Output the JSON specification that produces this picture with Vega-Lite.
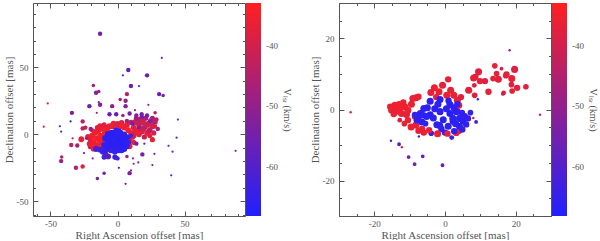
{
  "$schema": "https://vega.github.io/schema/vega-lite/v6.json",
  "padding": {"left": 3, "top": 2, "right": 0, "bottom": 0},
  "background": "white",
  "spacing": 17,
  "config": {
    "view": {"stroke": null},
    "axis": {
      "grid": false,
      "domainColor": "#555",
      "domainWidth": 1,
      "tickColor": "#555",
      "tickWidth": 1,
      "labelFont": "Liberation Serif",
      "labelFontSize": 9,
      "labelColor": "#555",
      "titleFont": "Liberation Serif",
      "titleFontSize": 11,
      "titleFontWeight": "normal",
      "titleColor": "#555"
    },
    "legend": {
      "labelFont": "Liberation Serif",
      "labelFontSize": 9,
      "labelColor": "#555",
      "titleFont": "Liberation Serif",
      "titleFontSize": 10,
      "titleFontWeight": "normal",
      "titleColor": "#555"
    }
  },
  "resolve": {"scale": {"color": "independent", "size": "independent"}, "legend": {"color": "independent"}},
  "datasets": {
    "L": [
      {"x": -20, "y": -4, "v": -36, "s": 3}, {"x": -19, "y": -1, "v": -35, "s": 3}, {"x": -18, "y": -6, "v": -35, "s": 3},
      {"x": -17, "y": 1, "v": -36, "s": 3}, {"x": -16, "y": -3, "v": -34, "s": 3}, {"x": -15, "y": -8, "v": -36, "s": 3},
      {"x": -14, "y": 3, "v": -35, "s": 3}, {"x": -13, "y": -1, "v": -34, "s": 3}, {"x": -12, "y": -6, "v": -35, "s": 3},
      {"x": -11, "y": 4, "v": -36, "s": 3}, {"x": -10, "y": 0, "v": -34, "s": 3}, {"x": -9, "y": -9, "v": -35, "s": 3},
      {"x": -8, "y": 5, "v": -36, "s": 3}, {"x": -7, "y": 2, "v": -35, "s": 3}, {"x": -6, "y": 6, "v": -37, "s": 3},
      {"x": -12, "y": -10, "v": -36, "s": 2.5}, {"x": -17, "y": -9, "v": -37, "s": 2.5}, {"x": -21, "y": -7, "v": -38, "s": 2.5},
      {"x": -5, "y": -10, "v": -36, "s": 3}, {"x": -3, "y": -11, "v": -35, "s": 3}, {"x": -15, "y": 5, "v": -38, "s": 2.5},
      {"x": -19, "y": 3, "v": -40, "s": 2},
      {"x": -22, "y": -2, "v": -36, "s": 3}, {"x": -20, "y": -9, "v": -36, "s": 3}, {"x": -18, "y": -11, "v": -37, "s": 2.5},
      {"x": -14, "y": -4, "v": -35, "s": 3}, {"x": -16, "y": 2, "v": -36, "s": 3}, {"x": -9, "y": 3, "v": -35, "s": 3},
      {"x": -11, "y": -3, "v": -35, "s": 3}, {"x": -8, "y": -11, "v": -36, "s": 3}, {"x": -13, "y": 6, "v": -37, "s": 3},
      {"x": -10, "y": 7, "v": -38, "s": 2.5}, {"x": -3, "y": 8, "v": -36, "s": 3}, {"x": 3, "y": 8.5, "v": -37, "s": 3},
      {"x": 7, "y": 7, "v": -37, "s": 3}, {"x": 13, "y": 2, "v": -37, "s": 3}, {"x": 16, "y": 0, "v": -37, "s": 3},
      {"x": 19, "y": 4, "v": -39, "s": 3}, {"x": 22, "y": 7, "v": -40, "s": 3}, {"x": 24, "y": -1, "v": -38, "s": 2.5},
      {"x": 9, "y": -9, "v": -37, "s": 3}, {"x": 12, "y": -6, "v": -38, "s": 2.5}, {"x": 15, "y": 10, "v": -42, "s": 3},
      {"x": 19, "y": 12, "v": -45, "s": 2.5}, {"x": 26, "y": 12, "v": -48, "s": 2.5},
      {"x": -4, "y": 6, "v": -36, "s": 3}, {"x": -1, "y": 7, "v": -37, "s": 3}, {"x": 2, "y": 6, "v": -35, "s": 3},
      {"x": 5, "y": 5, "v": -36, "s": 3}, {"x": 8, "y": 3, "v": -35, "s": 3}, {"x": 10, "y": 1, "v": -36, "s": 3},
      {"x": 3, "y": -10, "v": -37, "s": 3}, {"x": 6, "y": -8, "v": -36, "s": 3}, {"x": 9, "y": -5, "v": -35, "s": 3},
      {"x": 11, "y": -2, "v": -38, "s": 3}, {"x": 0, "y": 8, "v": -39, "s": 2.5},
      {"x": 12, "y": 5, "v": -38, "s": 3}, {"x": 13, "y": 9, "v": -40, "s": 3}, {"x": 15, "y": 3, "v": -36, "s": 3},
      {"x": 16, "y": 7, "v": -42, "s": 3}, {"x": 17, "y": 11, "v": -44, "s": 3}, {"x": 18, "y": 2, "v": -38, "s": 3},
      {"x": 19, "y": 9, "v": -40, "s": 3}, {"x": 20, "y": 5, "v": -43, "s": 3}, {"x": 21, "y": 12, "v": -46, "s": 2.5},
      {"x": 22, "y": 1, "v": -37, "s": 3}, {"x": 23, "y": 8, "v": -41, "s": 3}, {"x": 24, "y": 3, "v": -44, "s": 3},
      {"x": 25, "y": 10, "v": -46, "s": 3}, {"x": 26, "y": 6, "v": -39, "s": 3}, {"x": 27, "y": 1, "v": -40, "s": 2.5},
      {"x": 14, "y": 12, "v": -47, "s": 2.5}, {"x": 12, "y": -1, "v": -40, "s": 3}, {"x": 20, "y": -2, "v": -42, "s": 2.5},
      {"x": 28, "y": 9, "v": -45, "s": 2.5}, {"x": 10, "y": 9, "v": -44, "s": 2.5}, {"x": 7, "y": 10, "v": -46, "s": 2},
      {"x": 30, "y": 4, "v": -48, "s": 2},
      {"x": 18, "y": 13, "v": -54, "s": 2}, {"x": 22, "y": 14, "v": -56, "s": 2}, {"x": 14, "y": 14, "v": -52, "s": 2},
      {"x": 24, "y": 10, "v": -55, "s": 1.5}, {"x": 16, "y": 5, "v": -52, "s": 2}, {"x": 11, "y": 8, "v": -55, "s": 2},
      {"x": -13, "y": 75, "v": -55, "s": 2}, {"x": 33, "y": 57, "v": -54, "s": 1}, {"x": 8, "y": 48, "v": -57, "s": 2},
      {"x": 22, "y": 44, "v": -56, "s": 2}, {"x": 4, "y": 44, "v": -58, "s": 1}, {"x": 10, "y": 36, "v": -56, "s": 2},
      {"x": 16, "y": 36, "v": -62, "s": 1}, {"x": -18, "y": 36.5, "v": -48, "s": 1.5}, {"x": -16, "y": 31, "v": -52, "s": 2},
      {"x": -14, "y": 32, "v": -50, "s": 1.5}, {"x": 7, "y": 30, "v": -44, "s": 2}, {"x": 31, "y": 30, "v": -56, "s": 2},
      {"x": 34, "y": 29, "v": -54, "s": 1.5}, {"x": 2, "y": 26, "v": -47, "s": 1.5}, {"x": 6, "y": 25, "v": -50, "s": 2},
      {"x": -14, "y": 24, "v": -52, "s": 1}, {"x": -52, "y": 23, "v": -38, "s": 1}, {"x": -21, "y": 21, "v": -55, "s": 2},
      {"x": -13, "y": 22, "v": -52, "s": 2}, {"x": -4, "y": 21, "v": -50, "s": 2}, {"x": 6, "y": 21, "v": -52, "s": 2},
      {"x": 23, "y": 22, "v": -50, "s": 1}, {"x": 13, "y": 18, "v": -45, "s": 1}, {"x": -34, "y": 16, "v": -52, "s": 2},
      {"x": -15.5, "y": 16, "v": -50, "s": 1}, {"x": -6, "y": 15, "v": -56, "s": 2}, {"x": -1, "y": 15, "v": -56, "s": 2},
      {"x": 4, "y": 14, "v": -48, "s": 1.5}, {"x": 9, "y": 15.5, "v": -54, "s": 2}, {"x": 18, "y": 15, "v": -55, "s": 2},
      {"x": 28, "y": 16, "v": -46, "s": 1.5}, {"x": 45, "y": 11, "v": -56, "s": 1}, {"x": -35, "y": 9.6, "v": -62, "s": 1},
      {"x": -26, "y": 9.6, "v": -45, "s": 2}, {"x": 29, "y": 11, "v": -44, "s": 2}, {"x": -55, "y": 5.7, "v": -40, "s": 1},
      {"x": -43, "y": 6, "v": -63, "s": 1}, {"x": -42, "y": 2, "v": -57, "s": 1}, {"x": -33.5, "y": -3, "v": -45, "s": 1},
      {"x": -20, "y": 4, "v": -50, "s": 2}, {"x": -26, "y": 4.4, "v": -44, "s": 2}, {"x": -24, "y": 5, "v": -42, "s": 2},
      {"x": 28, "y": 5.7, "v": -38, "s": 2}, {"x": 44, "y": -2.5, "v": -57, "s": 1}, {"x": -27, "y": -3.7, "v": -36, "s": 3},
      {"x": -34.5, "y": -8, "v": -44, "s": 2}, {"x": -30, "y": -8.4, "v": -46, "s": 2}, {"x": -21, "y": -10, "v": -45, "s": 1},
      {"x": 14, "y": -7, "v": -55, "s": 2}, {"x": 20, "y": -7, "v": -57, "s": 1}, {"x": 26, "y": -4, "v": -36, "s": 2.5},
      {"x": 38, "y": -8.6, "v": -55, "s": 1}, {"x": 41, "y": -13, "v": -56, "s": 1}, {"x": 88, "y": -12.3, "v": -52, "s": 1},
      {"x": -41.6, "y": -17, "v": -45, "s": 1.5}, {"x": -42, "y": -20, "v": -50, "s": 2}, {"x": -25, "y": -14, "v": -58, "s": 1},
      {"x": -18.5, "y": -18, "v": -48, "s": 1}, {"x": -1, "y": -17.5, "v": -52, "s": 2}, {"x": 7, "y": -16.5, "v": -46, "s": 1.5},
      {"x": 11.5, "y": -18, "v": -50, "s": 1}, {"x": 18.5, "y": -15, "v": -54, "s": 2}, {"x": 27.5, "y": -14.6, "v": -56, "s": 1},
      {"x": 15.5, "y": -21, "v": -52, "s": 1}, {"x": 12, "y": -22, "v": -54, "s": 1}, {"x": 26, "y": -23, "v": -55, "s": 1},
      {"x": -26, "y": -24, "v": -37, "s": 2}, {"x": -31, "y": -25, "v": -45, "s": 2}, {"x": 9, "y": -29, "v": -52, "s": 2},
      {"x": -10, "y": -29, "v": -54, "s": 1.5}, {"x": 1, "y": -25, "v": -62, "s": 1}, {"x": -15, "y": -33, "v": -54, "s": 1.5},
      {"x": 6, "y": -37, "v": -56, "s": 1}, {"x": 40, "y": -30.6, "v": -60, "s": 1}, {"x": 10, "y": -27, "v": -50, "s": 1},
      {"x": -23, "y": -3, "v": -48, "s": 1.5},
      {"x": -16, "y": -11, "v": -62, "s": 3}, {"x": -13, "y": -11.5, "v": -62, "s": 3}, {"x": -11, "y": -13, "v": -63, "s": 3},
      {"x": -9, "y": -15, "v": -61, "s": 3}, {"x": -7, "y": -16.5, "v": -60, "s": 3}, {"x": -10, "y": -17, "v": -61, "s": 2.5},
      {"x": -2, "y": -17, "v": -64, "s": 2.5}, {"x": 0, "y": -18, "v": -62, "s": 2},
      {"x": -9, "y": -3, "v": -66, "s": 3.5}, {"x": -8, "y": -7, "v": -65, "s": 3.5}, {"x": -7, "y": 0, "v": -66, "s": 3.5},
      {"x": -6, "y": -10, "v": -67, "s": 3.5}, {"x": -5, "y": -4, "v": -66, "s": 3.5}, {"x": -4, "y": 1, "v": -67, "s": 3.5},
      {"x": -3, "y": -8, "v": -66, "s": 3.5}, {"x": -2, "y": -2, "v": -67, "s": 3.5}, {"x": -1, "y": -11, "v": -65, "s": 3.5},
      {"x": 0, "y": -5, "v": -66, "s": 3.5}, {"x": 1, "y": 2, "v": -67, "s": 3.5}, {"x": 2, "y": -9, "v": -66, "s": 3.5},
      {"x": 3, "y": -3, "v": -66, "s": 3.5}, {"x": 4, "y": -7, "v": -67, "s": 3.5}, {"x": 5, "y": 0, "v": -65, "s": 3},
      {"x": 6, "y": -5, "v": -66, "s": 3}, {"x": 7, "y": -9, "v": -65, "s": 3}, {"x": -7, "y": -5, "v": -66, "s": 3.5},
      {"x": -4, "y": -6, "v": -67, "s": 3.5}, {"x": -1, "y": -7, "v": -66, "s": 3.5}, {"x": 2, "y": -5, "v": -67, "s": 3.5},
      {"x": -3, "y": -4, "v": -66, "s": 3.5}, {"x": 0, "y": -1, "v": -66, "s": 3.5}, {"x": 4, "y": -2, "v": -66, "s": 3},
      {"x": 8, "y": -2, "v": -64, "s": 2.5}, {"x": 10, "y": -1, "v": -62, "s": 2}, {"x": -10, "y": -8, "v": -64, "s": 3},
      {"x": 1, "y": -12, "v": -65, "s": 3}, {"x": -5, "y": -12, "v": -64, "s": 3}, {"x": 5, "y": -11, "v": -66, "s": 3},
      {"x": -8, "y": -10, "v": -66, "s": 3.5}, {"x": -6, "y": -2, "v": -66, "s": 3.5}, {"x": -2, "y": -13, "v": -65, "s": 3},
      {"x": 3, "y": -12, "v": -66, "s": 3}, {"x": 6, "y": -2, "v": -66, "s": 3}, {"x": -1, "y": 3, "v": -66, "s": 3},
      {"x": 2, "y": 1, "v": -66, "s": 3.5}, {"x": -9, "y": -12, "v": -65, "s": 3}, {"x": 8, "y": -6, "v": -65, "s": 3}
    ],
    "R": [
      {"x": -26.7, "y": -0.75, "v": -38, "s": 1}, {"x": 26.9, "y": -1.5, "v": -40, "s": 1}, {"x": 18.3, "y": 16.7, "v": -52, "s": 1},
      {"x": 8.1, "y": 6.7, "v": -40, "s": 1},
      {"x": 14.1, "y": 12.3, "v": -37, "s": 2.5}, {"x": 16, "y": 11.5, "v": -38, "s": 1.5}, {"x": 17.4, "y": 9.9, "v": -37, "s": 3},
      {"x": 19.7, "y": 11.3, "v": -38, "s": 3.5}, {"x": 14.6, "y": 10.1, "v": -37, "s": 2.5}, {"x": 15.1, "y": 8.5, "v": -37, "s": 3.5},
      {"x": 13.6, "y": 8.7, "v": -37, "s": 2.5}, {"x": 9.5, "y": 10.6, "v": -38, "s": 3.5}, {"x": 8.6, "y": 9.2, "v": -38, "s": 3},
      {"x": 8.1, "y": 8.9, "v": -37, "s": 3.5}, {"x": 9.9, "y": 8, "v": -37, "s": 3}, {"x": 11.3, "y": 8, "v": -38, "s": 3},
      {"x": 12.3, "y": 5, "v": -37, "s": 3}, {"x": 16.6, "y": 4.7, "v": -38, "s": 2}, {"x": 18.9, "y": 8.7, "v": -37, "s": 3.5},
      {"x": 18.8, "y": 7, "v": -38, "s": 2.5}, {"x": 20.4, "y": 6.1, "v": -37, "s": 3}, {"x": 22.9, "y": 6.4, "v": -38, "s": 2.5},
      {"x": 19, "y": 5.2, "v": -37, "s": 2.5}, {"x": 8.3, "y": 6.8, "v": -38, "s": 2}, {"x": 6.7, "y": 5.4, "v": -37, "s": 3.5},
      {"x": 8.4, "y": 4, "v": -38, "s": 2.5}, {"x": 17.2, "y": 9.5, "v": -37, "s": 2.5}, {"x": 16.4, "y": 4.4, "v": -40, "s": 1.5},
      {"x": 0.9, "y": 8.5, "v": -37, "s": 3}, {"x": -0.7, "y": 6.8, "v": -37, "s": 3.5}, {"x": -3, "y": 6.1, "v": -36, "s": 3.5},
      {"x": -4, "y": 4.8, "v": -37, "s": 3.5}, {"x": -1.7, "y": 5, "v": -36, "s": 3.5}, {"x": 1.6, "y": 5.4, "v": -37, "s": 3.5},
      {"x": 2.5, "y": 4, "v": -36, "s": 3.5}, {"x": 3.5, "y": 2.6, "v": -37, "s": 3.5}, {"x": 3.9, "y": 1.2, "v": -36, "s": 3.5},
      {"x": 0.5, "y": 4, "v": -36, "s": 3.5}, {"x": -2.5, "y": 3.5, "v": -37, "s": 3}, {"x": 4.5, "y": 3.5, "v": -38, "s": 3},
      {"x": 3.5, "y": -0.5, "v": -37, "s": 3},
      {"x": -8.2, "y": 3.3, "v": -36, "s": 3.5}, {"x": -9.1, "y": 3.1, "v": -37, "s": 3.5}, {"x": -7.5, "y": 3.6, "v": -36, "s": 3},
      {"x": -14.2, "y": 1.2, "v": -36, "s": 3.5}, {"x": -15.1, "y": -0.2, "v": -36, "s": 3.5}, {"x": -12.8, "y": 0.3, "v": -35, "s": 3.5},
      {"x": -11.4, "y": 0.8, "v": -36, "s": 3.5}, {"x": -10.5, "y": -0.2, "v": -36, "s": 3.5}, {"x": -12.3, "y": -1.1, "v": -36, "s": 3.5},
      {"x": -10.9, "y": -1.4, "v": -37, "s": 3.5}, {"x": -13.7, "y": -0.5, "v": -36, "s": 3.5}, {"x": -14.5, "y": -1.3, "v": -36, "s": 3},
      {"x": -13, "y": 1.5, "v": -35, "s": 3}, {"x": -12.8, "y": -3, "v": -38, "s": 2}, {"x": -10.5, "y": -3, "v": -36, "s": 3},
      {"x": -9.6, "y": -4.9, "v": -36, "s": 3.5}, {"x": -8.2, "y": -4.4, "v": -36, "s": 3.5}, {"x": -6.5, "y": -5.5, "v": -37, "s": 3},
      {"x": 4, "y": -6, "v": -36, "s": 3}, {"x": 3.2, "y": -6.6, "v": -37, "s": 3},
      {"x": -15.5, "y": 0.8, "v": -36, "s": 3}, {"x": -11.8, "y": 2, "v": -36, "s": 3}, {"x": -9.5, "y": 1.5, "v": -36, "s": 3.5},
      {"x": -8.5, "y": -2, "v": -36, "s": 3}, {"x": -11.5, "y": -4, "v": -36, "s": 2.5}, {"x": -6, "y": -6.5, "v": -36, "s": 3},
      {"x": -7.5, "y": -6, "v": -36, "s": 3},
      {"x": -4.2, "y": 2.3, "v": -66, "s": 3.5}, {"x": -1.4, "y": 2.8, "v": -66, "s": 3.5}, {"x": 1.4, "y": 1.4, "v": -66, "s": 3.5},
      {"x": -6, "y": 0.3, "v": -66, "s": 3.5}, {"x": -7, "y": -1.1, "v": -66, "s": 3.5}, {"x": -7.4, "y": -2, "v": -66, "s": 3},
      {"x": -8.5, "y": -1.5, "v": -65, "s": 3}, {"x": -4.2, "y": -1.5, "v": -67, "s": 3.5}, {"x": -1.4, "y": -0.6, "v": -66, "s": 3.5},
      {"x": 1.4, "y": -1.1, "v": -67, "s": 3.5}, {"x": 3.2, "y": -0.6, "v": -66, "s": 3.5}, {"x": 4.1, "y": -2.5, "v": -66, "s": 3.5},
      {"x": -3.3, "y": -2.4, "v": -66, "s": 3.5}, {"x": -0.5, "y": -2.9, "v": -67, "s": 3.5}, {"x": 2.3, "y": -3.3, "v": -66, "s": 3.5},
      {"x": 5.1, "y": -3.3, "v": -66, "s": 3}, {"x": 5.6, "y": -1.9, "v": -65, "s": 3}, {"x": -2.3, "y": -4.3, "v": -66, "s": 3.5},
      {"x": 0.9, "y": -4.7, "v": -66, "s": 3.5}, {"x": 4.1, "y": -4.7, "v": -66, "s": 3.5}, {"x": 6, "y": -4.2, "v": -65, "s": 3},
      {"x": 2.6, "y": -6.1, "v": -66, "s": 3}, {"x": 4.9, "y": -5.6, "v": -65, "s": 3}, {"x": -5.2, "y": -2, "v": -66, "s": 3.5},
      {"x": -6.1, "y": -1.6, "v": -66, "s": 3}, {"x": -2.9, "y": 0.2, "v": -66, "s": 3.5}, {"x": 0.4, "y": 0.2, "v": -66, "s": 3.5},
      {"x": 2.2, "y": -2.5, "v": -66, "s": 3.5}, {"x": -3.9, "y": -6.7, "v": -63, "s": 2.5}, {"x": -5.5, "y": -4, "v": -65, "s": 2.5},
      {"x": 1, "y": 2.5, "v": -66, "s": 3}, {"x": 2.5, "y": 0.5, "v": -66, "s": 3.5}, {"x": -1, "y": -5.5, "v": -66, "s": 3},
      {"x": -8, "y": -3, "v": -66, "s": 3}, {"x": -6.5, "y": -3.5, "v": -66, "s": 3.5}, {"x": -2, "y": 1.5, "v": -66, "s": 3.5},
      {"x": 3.5, "y": 1.5, "v": -66, "s": 3}, {"x": 6.5, "y": -2.5, "v": -65, "s": 3}, {"x": 0, "y": -6.5, "v": -66, "s": 3},
      {"x": -1.5, "y": -4.5, "v": -66, "s": 3.5}, {"x": 3, "y": -4, "v": -66, "s": 3.5}, {"x": -5, "y": 0.5, "v": -66, "s": 3.5},
      {"x": 4.8, "y": -1, "v": -66, "s": 3},
      {"x": -2.1, "y": -6.8, "v": -36, "s": 3.5}, {"x": 0.7, "y": -6.8, "v": -37, "s": 3}, {"x": -4.5, "y": -5.8, "v": -36, "s": 3},
      {"x": 9.3, "y": 2.9, "v": -62, "s": 1}, {"x": 8.8, "y": -3.5, "v": -64, "s": 1.5}, {"x": 8, "y": -2.4, "v": -40, "s": 1},
      {"x": 7.2, "y": -0.9, "v": -64, "s": 2.5}, {"x": 1.9, "y": -7.9, "v": -62, "s": 2}, {"x": -15.3, "y": -8.8, "v": -60, "s": 1},
      {"x": -13, "y": -9.8, "v": -60, "s": 1.5}, {"x": -12.2, "y": -10.6, "v": -40, "s": 1}, {"x": -7.4, "y": -7.6, "v": -60, "s": 1},
      {"x": -10.3, "y": -13.4, "v": -56, "s": 1.5}, {"x": -6.3, "y": -13.2, "v": -58, "s": 1.5}, {"x": -8.6, "y": -15.4, "v": -55, "s": 1.5},
      {"x": -0.7, "y": -15.7, "v": -57, "s": 1.5}
    ]
  },
  "hconcat": [
    {
      "width": 212,
      "height": 213,
      "data": {"name": "L"},
      "resolve": {"axis": {"x": "independent", "y": "independent"}},
      "layer": [
        {
          "mark": {"type": "circle", "opacity": 1},
          "encoding": {
            "x": {"field": "x", "type": "quantitative", "title": "Right Ascension offset [mas]",
              "scale": {"domain": [-63, 95], "nice": false, "zero": false},
              "axis": {"orient": "bottom", "values": [-60, -50, -40, -30, -20, -10, 0, 10, 20, 30, 40, 50, 60, 70, 80, 90],
                "tickSize": {"condition": {"test": "datum.value % 50 === 0", "value": -5}, "value": -2.5},
                "labelExpr": "datum.value % 50 === 0 ? replace(datum.label, '−', '-') : ''", "labelPadding": 8, "titlePadding": 1}},
            "y": {"field": "y", "type": "quantitative", "title": "Declination offset [mas]",
              "scale": {"domain": [-61, 98], "nice": false, "zero": false},
              "axis": {"orient": "left", "values": [-60, -50, -40, -30, -20, -10, 0, 10, 20, 30, 40, 50, 60, 70, 80, 90],
                "tickSize": {"condition": {"test": "datum.value % 50 === 0", "value": -5}, "value": -2.5},
                "labelExpr": "datum.value % 50 === 0 ? replace(datum.label, '−', '-') : ''", "labelPadding": 10, "titlePadding": 2}},
            "color": {"field": "v", "type": "quantitative",
              "scale": {"domain": [-68, -33], "range": ["#2020ff", "#ff2020"], "interpolate": "rgb"},
              "legend": {"orient": "right", "direction": "vertical", "gradientLength": 213, "gradientThickness": 15,
                "offset": 0, "padding": 0, "values": [-60, -50, -40], "labelOffset": 5, "gradientStrokeWidth": 0,
                "labelExpr": "replace(datum.label, '−', '-')",
                "title": "Vₗₛᵣ (km/s)", "titleOrient": "right", "titleAngle": 270, "titleAnchor": "middle", "titlePadding": 4}},
            "size": {"field": "s", "type": "quantitative", "scale": {"domain": [1, 4], "range": [5, 48]}, "legend": null}
          }
        },
        {
          "mark": {"type": "point", "opacity": 0},
          "encoding": {
            "x": {"field": "x", "type": "quantitative",
              "axis": {"orient": "top", "title": null, "labels": false, "values": [-60, -50, -40, -30, -20, -10, 0, 10, 20, 30, 40, 50, 60, 70, 80, 90],
                "tickSize": {"condition": {"test": "datum.value % 50 === 0", "value": -5}, "value": -2.5}}},
            "y": {"field": "y", "type": "quantitative",
              "axis": {"orient": "right", "title": null, "labels": false, "values": [-60, -50, -40, -30, -20, -10, 0, 10, 20, 30, 40, 50, 60, 70, 80, 90],
                "tickSize": {"condition": {"test": "datum.value % 50 === 0", "value": -5}, "value": -2.5}}}
          }
        }
      ]
    },
    {
      "width": 212,
      "height": 213,
      "data": {"name": "R"},
      "resolve": {"axis": {"x": "independent", "y": "independent"}},
      "layer": [
        {
          "mark": {"type": "circle", "opacity": 1},
          "encoding": {
            "x": {"field": "x", "type": "quantitative", "title": "Right Ascension offset [mas]",
              "scale": {"domain": [-30, 30], "nice": false, "zero": false},
              "axis": {"orient": "bottom", "values": [-30, -25, -20, -15, -10, -5, 0, 5, 10, 15, 20, 25, 30],
                "tickSize": {"condition": {"test": "datum.value % 20 === 0", "value": -5}, "value": -2.5},
                "labelExpr": "datum.value % 20 === 0 ? replace(datum.label, '−', '-') : ''", "labelPadding": 8, "titlePadding": 1}},
            "y": {"field": "y", "type": "quantitative", "title": "Declination offset [mas]",
              "scale": {"domain": [-30, 30], "nice": false, "zero": false},
              "axis": {"orient": "left", "values": [-30, -25, -20, -15, -10, -5, 0, 5, 10, 15, 20, 25, 30],
                "tickSize": {"condition": {"test": "datum.value % 20 === 0", "value": -5}, "value": -2.5},
                "labelExpr": "datum.value % 20 === 0 ? replace(datum.label, '−', '-') : ''", "labelPadding": 10, "titlePadding": 2}},
            "color": {"field": "v", "type": "quantitative",
              "scale": {"domain": [-68, -33], "range": ["#2020ff", "#ff2020"], "interpolate": "rgb"},
              "legend": {"orient": "right", "direction": "vertical", "gradientLength": 213, "gradientThickness": 15,
                "offset": 0, "padding": 0, "values": [-60, -50, -40], "labelOffset": 5, "gradientStrokeWidth": 0,
                "labelExpr": "replace(datum.label, '−', '-')",
                "title": "Vₗₛᵣ (km/s)", "titleOrient": "right", "titleAngle": 270, "titleAnchor": "middle", "titlePadding": 4}},
            "size": {"field": "s", "type": "quantitative", "scale": {"domain": [1, 4], "range": [6, 58]}, "legend": null}
          }
        },
        {
          "mark": {"type": "point", "opacity": 0},
          "encoding": {
            "x": {"field": "x", "type": "quantitative",
              "axis": {"orient": "top", "title": null, "labels": false, "values": [-30, -25, -20, -15, -10, -5, 0, 5, 10, 15, 20, 25, 30],
                "tickSize": {"condition": {"test": "datum.value % 20 === 0", "value": -5}, "value": -2.5}}},
            "y": {"field": "y", "type": "quantitative",
              "axis": {"orient": "right", "title": null, "labels": false, "values": [-30, -25, -20, -15, -10, -5, 0, 5, 10, 15, 20, 25, 30],
                "tickSize": {"condition": {"test": "datum.value % 20 === 0", "value": -5}, "value": -2.5}}}
          }
        }
      ]
    }
  ]
}
